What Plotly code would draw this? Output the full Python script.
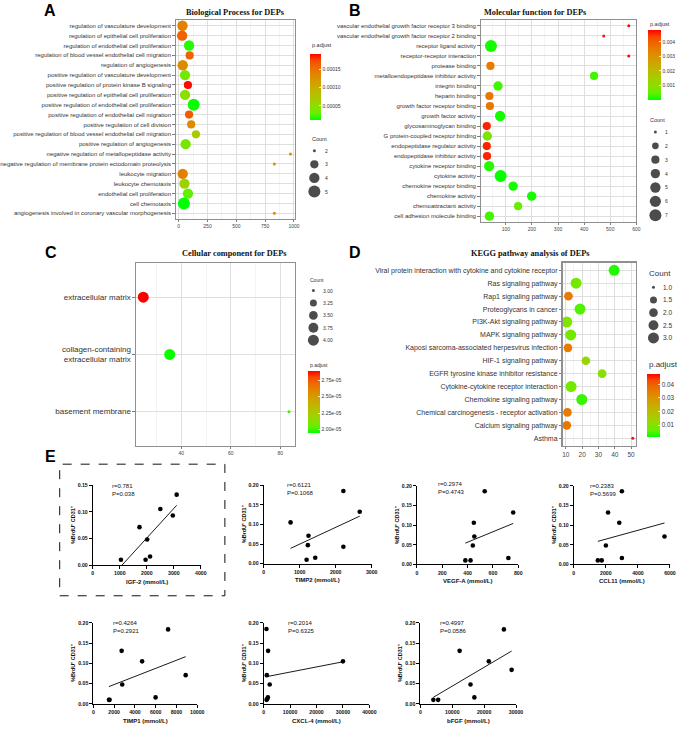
import numpy as np
import plotly.graph_objects as go

W, H = 685, 729

# ---------------- Panel A: Biological Process
bp_terms = [
    "regulation of vasculature development",
    "regulation of epithelial cell proliferation",
    "regulation of endothelial cell proliferation",
    "regulation of blood vessel endothelial cell migration",
    "regulation of angiogenesis",
    "positive regulation of vasculature development",
    "positive regulation of protein kinase B signaling",
    "positive regulation of epithelial cell proliferation",
    "positive regulation of endothelial cell proliferation",
    "positive regulation of endothelial cell migration",
    "positive regulation of cell division",
    "positive regulation of blood vessel endothelial cell migration",
    "positive regulation of angiogenesis",
    "negative regulation of metallopeptidase activity",
    "negative regulation of membrane protein ectodomain proteolysis",
    "leukocyte migration",
    "leukocyte chemotaxis",
    "endothelial cell proliferation",
    "cell chemotaxis",
    "angiogenesis involved in coronary vascular morphogenesis",
]
bp_x = [33, 30, 90, 95, 35, 55, 80, 55, 130, 90, 108, 150, 60, 970, 830, 35, 50, 80, 45, 830]
bp_count = [4, 4, 4, 3, 4, 4, 3, 4, 5, 3, 3, 3, 4, 2, 2, 4, 4, 4, 5, 2]
bp_padj = [1.4e-4, 1.6e-4, 2.0e-5, 1.6e-4, 1.3e-4, 4.0e-5, 1.9e-4, 5.0e-5, 1.5e-5, 1.65e-4,
           1.3e-4, 7.0e-5, 4.0e-5, 1.3e-4, 1.3e-4, 1.4e-4, 6.0e-5, 3.0e-5, 1.3e-5, 1.3e-4]
bp_count_levels = [2, 3, 4, 5]
bp_count_text = ["2", "3", "4", "5"]
bp_cbar_ticks = [5e-5, 1e-4, 1.5e-4]
bp_cbar_text = ["0.00005", "0.00010", "0.00015"]

# ---------------- Panel B: Molecular function
mf_terms = [
    "vascular endothelial growth factor receptor 3 binding",
    "vascular endothelial growth factor receptor 2 binding",
    "receptor ligand activity",
    "receptor-receptor interaction",
    "protease binding",
    "metalloendopeptidase inhibitor activity",
    "integrin binding",
    "heparin binding",
    "growth factor receptor binding",
    "growth factor activity",
    "glycosaminoglycan binding",
    "G protein-coupled receptor binding",
    "endopeptidase regulator activity",
    "endopeptidase inhibitor activity",
    "cytokine receptor binding",
    "cytokine activity",
    "chemokine receptor binding",
    "chemokine activity",
    "chemoattractant activity",
    "cell adhesion molecule binding",
]
mf_x = [571, 475, 43, 571, 41, 438, 70, 37, 39, 78, 27, 29, 27, 28, 36, 80, 128, 199, 147, 37]
mf_count = [1, 1, 7, 1, 3, 3, 4, 3, 3, 5, 3, 4, 3, 3, 5, 7, 4, 4, 3, 4]
mf_padj = [0.0048, 0.0047, 0.0001, 0.0048, 0.0035, 0.0003, 0.0003, 0.0036, 0.0036, 0.0001,
           0.0046, 0.0008, 0.0046, 0.0046, 0.0002, 0.00005, 0.0001, 0.0001, 0.0005, 0.0003]
mf_count_levels = [1, 2, 3, 4, 5, 6, 7]
mf_count_text = ["1", "2", "3", "4", "5", "6", "7"]
mf_cbar_ticks = [0.001, 0.002, 0.003, 0.004]
mf_cbar_text = ["0.001", "0.002", "0.003", "0.004"]

# ---------------- Panel C: Cellular component
cc_terms = ["extracellular matrix", "collagen-containing<br>extracellular matrix", "basement membrane"]
cc_x = [24.6, 35.3, 83.5]
cc_count = [4, 4, 3]
cc_padj = [2.89e-5, 1.96e-5, 2.0e-5]
cc_count_levels = [3.00, 3.25, 3.50, 3.75, 4.00]
cc_count_text = ["3.00", "3.25", "3.50", "3.75", "4.00"]
cc_cbar_ticks = [2.0e-5, 2.25e-5, 2.5e-5, 2.75e-5]
cc_cbar_text = ["2.00e-05", "2.25e-05", "2.50e-05", "2.75e-05"]

# ---------------- Panel D: KEGG
kegg_terms = [
    "Viral protein interaction with cytokine and cytokine receptor",
    "Ras signaling pathway",
    "Rap1 signaling pathway",
    "Proteoglycans in cancer",
    "PI3K-Akt signaling pathway",
    "MAPK signaling pathway",
    "Kaposi sarcoma-associated herpesvirus infection",
    "HIF-1 signaling pathway",
    "EGFR tyrosine kinase inhibitor resistance",
    "Cytokine-cytokine receptor interaction",
    "Chemokine signaling pathway",
    "Chemical carcinogenesis - receptor activation",
    "Calcium signaling pathway",
    "Asthma",
]
kegg_x = [39.6, 16.3, 11.6, 18.7, 10.6, 13.0, 11.3, 22.3, 32.2, 13.2, 19.8, 11.0, 10.6, 51.0]
kegg_count = [3, 3, 2, 3, 3, 3, 2, 2, 2, 3, 3, 2, 2, 1]
kegg_padj = [0.003, 0.008, 0.035, 0.005, 0.009, 0.008, 0.035, 0.013, 0.010, 0.008, 0.004, 0.035, 0.036, 0.047]
kegg_count_levels = [1.0, 1.5, 2.0, 2.5, 3.0]
kegg_count_text = ["1.0", "1.5", "2.0", "2.5", "3.0"]
kegg_cbar_ticks = [0.01, 0.02, 0.03, 0.04]
kegg_cbar_text = ["0.01", "0.02", "0.03", "0.04"]

# ---------------- Panel E: correlations
brdu_title = "%BrdU\u207a CD31\u207a"
E_xlabels = ["IGF-2 (mmol/L)", "TIMP2 (mmol/L)", "VEGF-A (mmol/L)", "CCL11 (mmol/L)",
             "TIMP1 (mmol/L)", "CXCL-4 (mmol/L)", "bFGF (mmol/L)"]
E_r = ["r=0.781", "r=0.6121", "r=0.2974", "r=0.2383", "r=0.4264", "r=0.2014", "r=0.4997"]
E_p = ["P=0.038", "P=0.1068", "P=0.4743", "P=0.5699", "P=0.2921", "P=0.6325", "P=0.0586"]

igf2_x = [1043, 1730, 2014, 1956, 2121, 2502, 2964, 3107]
igf2_y = [0.010, 0.071, 0.048, 0.010, 0.016, 0.105, 0.093, 0.132]
timp2_x = [747, 1245, 1227, 1192, 1432, 2213, 2213, 2667]
timp2_y = [0.105, 0.071, 0.047, 0.010, 0.015, 0.185, 0.043, 0.132]
vegfa_x = [382, 423, 441, 453, 449, 535, 722, 760]
vegfa_y = [0.010, 0.010, 0.048, 0.071, 0.106, 0.186, 0.016, 0.132]
ccl11_x = [1500, 1740, 2000, 2136, 2838, 3000, 3000, 5658]
ccl11_y = [0.010, 0.010, 0.048, 0.132, 0.106, 0.186, 0.016, 0.071]
timp1_x = [1500, 1560, 2778, 2722, 4694, 5991, 7194, 8889]
timp1_y = [0.010, 0.010, 0.048, 0.131, 0.105, 0.016, 0.184, 0.071]
cxcl4_x = [1075, 1685, 1200, 2294, 1600, 1100, 1350, 30000]
cxcl4_y = [0.185, 0.131, 0.071, 0.048, 0.016, 0.010, 0.012, 0.105]
bfgf_x = [4048, 5559, 12296, 15710, 16918, 21450, 26193, 28610]
bfgf_y = [0.010, 0.010, 0.131, 0.048, 0.016, 0.105, 0.184, 0.084]

E_xs = [igf2_x, timp2_x, vegfa_x, ccl11_x, timp1_x, cxcl4_x, bfgf_x]
E_ys = [igf2_y, timp2_y, vegfa_y, ccl11_y, timp1_y, cxcl4_y, bfgf_y]
E_xmax = [4000, 3000, 800, 6000, 10000, 40000, 30000]
E_xdtick = [1000, 1000, 200, 2000, 2000, 10000, 10000]
E_ymax = [0.15, 0.20, 0.20, 0.20, 0.20, 0.20, 0.20]

# ---------------- helpers
def dx(a, b):
    return [a / W, b / W]

def dy(top, bottom):
    return [1 - bottom / H, 1 - top / H]

def px(x):
    return x / W

def py(y):
    return 1 - y / H

def _lin(c):
    c = c / 255.0
    return c / 12.92 if c <= 0.04045 else ((c + 0.055) / 1.055) ** 2.4

def rgb2lab(rgb):
    R, G, B = [_lin(c) for c in rgb]
    X = 0.4124 * R + 0.3576 * G + 0.1805 * B
    Y = 0.2126 * R + 0.7152 * G + 0.0722 * B
    Z = 0.0193 * R + 0.1192 * G + 0.9505 * B
    f = lambda t: t ** (1 / 3) if t > 0.008856 else 7.787 * t + 16 / 116
    fx_, fy_, fz_ = f(X / 0.95047), f(Y), f(Z / 1.08883)
    return (116 * fy_ - 16, 500 * (fx_ - fy_), 200 * (fy_ - fz_))

def lab2rgb(lab):
    L, a, b = lab
    fy_ = (L + 16) / 116
    fx_ = fy_ + a / 500
    fz_ = fy_ - b / 200
    finv = lambda t: t ** 3 if t ** 3 > 0.008856 else (t - 16 / 116) / 7.787
    X, Y, Z = 0.95047 * finv(fx_), finv(fy_), 1.08883 * finv(fz_)
    R = 3.2406 * X - 1.5372 * Y - 0.4986 * Z
    G = -0.9689 * X + 1.8758 * Y + 0.0415 * Z
    B = 0.0557 * X - 0.2040 * Y + 1.0570 * Z
    gam = lambda c: 12.92 * c if c <= 0.0031308 else 1.055 * c ** (1 / 2.4) - 0.055
    return tuple(int(round(min(max(gam(c), 0), 1) * 255)) for c in (R, G, B))

lo, hi = rgb2lab((0, 255, 0)), rgb2lab((255, 0, 0))
CSCALE = []
for i in range(11):
    t = i / 10
    lab = tuple(lo[k] + (hi[k] - lo[k]) * t for k in range(3))
    r, g, b = lab2rgb(lab)
    CSCALE.append([t, f"rgb({r},{g},{b})"])

def sizes(counts, cmin, cmax, dmin, dmax):
    return [float(dmin + (dmax - dmin) * np.sqrt((c - cmin) / (cmax - cmin))) for c in counts]

FONT = "Liberation Sans"
SERIF = "Liberation Serif"

fig = go.Figure()
annotations = []
layout = {}

def ann(text, x, y, size, xanchor="center", yanchor="middle", color="#222", family=FONT,
        angle=0, weight="normal"):
    annotations.append(dict(text=text, x=px(x), y=py(y), xref="paper", yref="paper",
                            showarrow=False, xanchor=xanchor, yanchor=yanchor, textangle=angle,
                            font=dict(size=size, color=color, family=family, weight=weight)))

# ---------------- ggplot-like dot panels
panels = [
    dict(terms=bp_terms, x=bp_x, count=bp_count, padj=bp_padj, dom=(163, 287, 17, 218),
         xr=[-25, 1010], dt=250, mdt=125, ytf=6, xtf=5, cmin=1.3e-5, cmax=1.92e-4,
         csz=(2, 5, 3, 12), cbar=(303, 51, 116.7, 11), cbt=bp_cbar_ticks, cbx=bp_cbar_text, cbf=5),
    dict(terms=mf_terms, x=mf_x, count=mf_count, padj=mf_padj, dom=(480, 641.7, 17, 221),
         xr=[4, 600], dt=100, mdt=50, ytf=6, xtf=5, cmin=0.0, cmax=0.00483,
         csz=(1, 7, 3, 12), cbar=(654, 27, 97, 13), cbt=mf_cbar_ticks, cbx=mf_cbar_text, cbf=5),
    dict(terms=cc_terms, x=cc_x, count=cc_count, padj=cc_padj, dom=(121.7, 287.3, 262, 446.7),
         xr=[21.7, 86.1], dt=20, mdt=10, ytf=8, xtf=5, cmin=1.95e-5, cmax=2.89e-5,
         csz=(3, 4, 3, 11), cbar=(300, 371, 432.7, 12), cbt=cc_cbar_ticks, cbx=cc_cbar_text, cbf=5),
    dict(terms=kegg_terms, x=kegg_x, count=kegg_count, padj=kegg_padj, dom=(565, 641.7, 261.7, 446.7),
         xr=[8, 53.2], dt=10, mdt=5, ytf=7, xtf=6.5, cmin=0.0014, cmax=0.0476,
         csz=(1, 3, 3, 11), cbar=(653, 374, 436.7, 12.5), cbt=kegg_cbar_ticks, cbx=kegg_cbar_text, cbf=6.3),
]

for i, p in enumerate(panels, start=1):
    x0, x1, t, b = p["dom"]
    c0, c1, d0, d1 = p["csz"]
    cbx0, cbt0, cbb0, cbth = p["cbar"]
    fig.add_trace(go.Scatter(
        x=p["x"], y=p["terms"], mode="markers", xaxis=f"x{i}", yaxis=f"y{i}",
        marker=dict(size=sizes(p["count"], c0, c1, d0, d1), sizemode="diameter",
                    color=p["padj"], colorscale=CSCALE, cmin=p["cmin"], cmax=p["cmax"],
                    line=dict(width=0), opacity=1, showscale=True,
                    colorbar=dict(x=px(cbx0), xanchor="left", y=py(cbt0), yanchor="top",
                                  len=cbb0 - cbt0, lenmode="pixels", thickness=cbth,
                                  thicknessmode="pixels", xpad=0, ypad=0, outlinewidth=0,
                                  ticks="inside", ticklen=2, tickcolor="white", tickwidth=0.8,
                                  tickvals=p["cbt"], ticktext=p["cbx"],
                                  tickfont=dict(size=p["cbf"], color="#333", family=FONT))),
        hoverinfo="skip"))
    n = len(p["terms"])
    layout[f"xaxis{i}"] = dict(domain=dx(x0, x1), anchor=f"y{i}", range=p["xr"], dtick=p["dt"],
                               tick0=0, showgrid=True, gridcolor="#dcdcdc", gridwidth=0.9,
                               minor=dict(dtick=p["mdt"], tick0=0, showgrid=True,
                                          gridcolor="#ececec", gridwidth=0.6),
                               ticks="outside", ticklen=2, tickwidth=0.7, tickcolor="#444",
                               tickfont=dict(size=p["xtf"], color="#444", family=FONT),
                               showline=True, mirror=True, linecolor="#8f8f8f", linewidth=1.1,
                               zeroline=False, fixedrange=True)
    layout[f"yaxis{i}"] = dict(domain=dy(t, b), anchor=f"x{i}", type="category",
                               categoryorder="array", categoryarray=p["terms"],
                               range=[n - 0.4, -0.6], showgrid=True, gridcolor="#dcdcdc",
                               gridwidth=0.9, ticks="outside", ticklen=2.5, tickwidth=0.7,
                               tickcolor="#444",
                               tickfont=dict(size=p["ytf"], color="#333", family=FONT),
                               showline=True, mirror=True, linecolor="#8f8f8f", linewidth=1.1,
                               zeroline=False, fixedrange=True)

# ---------------- legend overlay axis (pixel coordinates)
LX = 12
layout[f"xaxis{LX}"] = dict(domain=[0, 1], anchor=f"y{LX}", range=[0, W], visible=False, fixedrange=True)
layout[f"yaxis{LX}"] = dict(domain=[0, 1], anchor=f"x{LX}", range=[H, 0], visible=False, fixedrange=True)

legend_specs = [
    # levels, labels, csz, marker x, first y, step, label x, count-title pos, cbar-title pos, fonts
    (bp_count_levels, bp_count_text, panels[0]["csz"], 307, 149, 13.7, 315.5, (303, 137), (303, 42.5), 5, 5.5),
    (mf_count_levels, mf_count_text, panels[1]["csz"], 661.5, 130, 14.0, 669.5, (654, 118), (654, 20.7), 5, 5.5),
    (cc_count_levels, cc_count_text, panels[2]["csz"], 306, 290, 12.5, 313.5, (300, 279), (300, 365), 5, 5),
    (kegg_count_levels, kegg_count_text, panels[3]["csz"], 659.5, 286.7, 12.75, 667, (653, 273), (653, 364.3), 6.5, 8),
]
for levels, labels, csz, mx, y0, step, lx, tpos, cpos, lf, tf in legend_specs:
    c0, c1, d0, d1 = csz
    ys = [y0 + k * step for k in range(len(levels))]
    fig.add_trace(go.Scatter(x=[mx] * len(levels), y=ys, mode="markers", xaxis=f"x{LX}",
                             yaxis=f"y{LX}", hoverinfo="skip", cliponaxis=False,
                             marker=dict(size=sizes(levels, c0, c1, d0, d1), color="black",
                                         line=dict(width=0))))
    for txt, yy in zip(labels, ys):
        ann(txt, lx, yy, lf, xanchor="left", color="#333")
    ann("Count", tpos[0], tpos[1], tf, xanchor="left", color="#333")
    ann("p.adjust", cpos[0], cpos[1], tf, xanchor="left", color="#333")

# ---------------- panel titles and letters
ann("Biological Process for DEPs", 225.5, 10, 8.3, family=SERIF, color="#111", weight="bold")
ann("Molecular function for DEPs", 537, 10, 8.3, family=SERIF, color="#111", weight="bold")
ann("Cellular component for DEPs", 224, 253, 8.3, family=SERIF, color="#111", weight="bold")
ann("KEGG pathway analysis of DEPs", 532, 253, 8.3, family=SERIF, color="#111", weight="bold")
for letter, lx_, ly_ in [("A", 24, 7.5), ("B", 341, 7.5), ("C", 25, 251.5), ("D", 341, 251.5), ("E", 25, 457)]:
    ann(letter, lx_, ly_, 16, xanchor="left", color="#000", weight="bold")

# ---------------- E scatter panels
E_dom = [
    (76.7, 189, 486, 566.7),
    (254.3, 366.7, 486, 565.3),
    (413.7, 519, 486.7, 566),
    (576.7, 676.7, 486.7, 566),
    (77.3, 185.3, 625, 706.7),
    (254.3, 364.3, 625, 706.7),
    (417.3, 516.7, 625, 706.7),
]
E_txt = [(95, 486.7), (276.7, 485.5), (433.3, 484.5), (591.7, 486.7), (96, 625), (277.3, 625), (436, 625)]

for k in range(7):
    ai = 5 + k
    xs, ys = E_xs[k], E_ys[k]
    x0, x1, t, b = E_dom[k]
    m, c = np.polyfit(xs, ys, 1)
    lxs = np.array([min(xs), max(xs)], dtype=float)
    fig.add_trace(go.Scatter(x=lxs.tolist(), y=(m * lxs + c).tolist(), mode="lines",
                             xaxis=f"x{ai}", yaxis=f"y{ai}",
                             line=dict(color="black", width=0.9), hoverinfo="skip"))
    fig.add_trace(go.Scatter(x=xs, y=ys, mode="markers", xaxis=f"x{ai}", yaxis=f"y{ai}",
                             marker=dict(size=4.6, color="black", line=dict(width=0)),
                             cliponaxis=False, hoverinfo="skip"))
    ymax = E_ymax[k]
    layout[f"xaxis{ai}"] = dict(domain=dx(x0, x1), anchor=f"y{ai}", range=[0, E_xmax[k] * 1.0005],
                                tickvals=list(range(0, E_xmax[k] + 1, E_xdtick[k])), tickformat="d",
                                showgrid=False, zeroline=False, showline=True, linecolor="black",
                                linewidth=1, ticks="outside", ticklen=3, tickwidth=1, tickcolor="black",
                                tickfont=dict(size=5.2, color="#111", family=FONT, weight="bold"),
                                fixedrange=True)
    layout[f"yaxis{ai}"] = dict(domain=dy(t, b), anchor=f"x{ai}", range=[0, ymax * 1.0005],
                                tickvals=[float(v) for v in np.round(np.arange(0, ymax + 1e-9, 0.05), 2)],
                                tickformat=".2f", showgrid=False, zeroline=False, showline=True,
                                linecolor="black", linewidth=1, ticks="outside", ticklen=3,
                                tickwidth=1, tickcolor="black",
                                tickfont=dict(size=5.2, color="#111", family=FONT, weight="bold"),
                                fixedrange=True)
    tx, ty = E_txt[k]
    ann(E_r[k], tx, ty, 6, xanchor="left", color="#111")
    ann(E_p[k], tx, ty + 8.2, 6, xanchor="left", color="#111")
    ann(E_xlabels[k], (x0 + x1) / 2, b + 16.8, 6, color="#111", weight="bold")
    ann(brdu_title, x0 - 20.5, (t + b) / 2, 5.5, color="#111", angle=-90, weight="bold")

shapes = [dict(type="rect", xref="paper", yref="paper", x0=px(42.3), x1=px(214), y0=py(597.7),
               y1=py(465), line=dict(color="#111", width=1, dash="dash"), fillcolor="rgba(0,0,0,0)")]

fig.update_layout(width=W, height=H, margin=dict(l=0, r=0, t=0, b=0), autosize=False,
                  paper_bgcolor="white", plot_bgcolor="rgba(0,0,0,0)", showlegend=False,
                  annotations=annotations, shapes=shapes, **layout)

fig.write_html("out.html", config={"displayModeBar": False, "staticPlot": True},
               post_script="document.body.style.margin='0';document.body.style.padding='0';"
                           "document.body.style.overflow='hidden';"
                           "document.documentElement.style.overflow='hidden';")
